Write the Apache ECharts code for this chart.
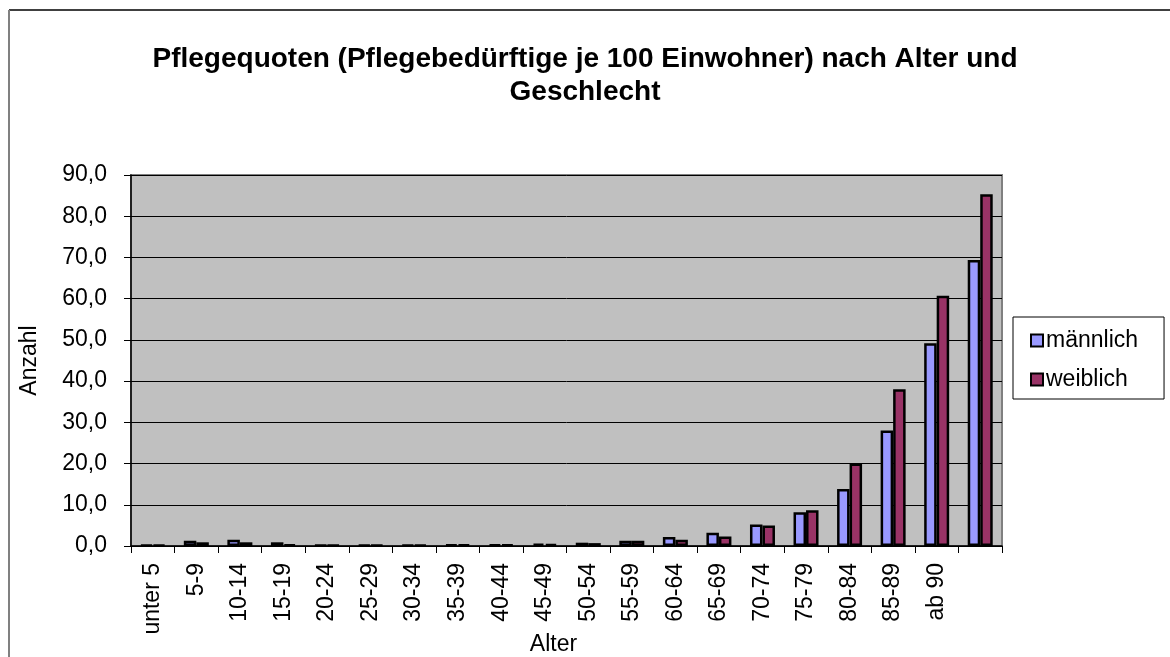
<!DOCTYPE html>
<html>
<head>
<meta charset="utf-8">
<script src="https://cdn.jsdelivr.net/npm/echarts@6/dist/echarts.min.js"></script>
<style>
  html, body { margin: 0; padding: 0; background: #fff; }
  #chart { width: 1170px; height: 657px; }
</style>
</head>
<body>
<div id="chart"></div>
<script>
// Altersgruppen (letzte Gruppe ohne Beschriftung wie im Original)
const ageGroups = ['unter 5', '5-9', '10-14', '15-19', '20-24', '25-29', '30-34', '35-39', '40-44', '45-49',
  '50-54', '55-59', '60-64', '65-69', '70-74', '75-79', '80-84', '85-89', 'ab 90', ''];
// Pflegequoten männlich
const maleValues = [0.3, 1.3, 1.5, 0.9, 0.2, 0.3, 0.3, 0.4, 0.4, 0.6,
  0.8, 1.3, 2.2, 3.2, 5.2, 8.2, 13.8, 28.0, 49.2, 69.4];
// Pflegequoten weiblich
const femaleValues = [0.3, 0.9, 0.9, 0.4, 0.2, 0.2, 0.3, 0.4, 0.4, 0.5,
  0.7, 1.3, 1.5, 2.3, 5.0, 8.7, 20.0, 38.0, 60.7, 85.3];
const yTicks = {min: 0, max: 90, interval: 10};

const FONT = 'Liberation Sans, Arial, sans-serif';
const FS = 23;

const chart = echarts.init(document.getElementById('chart'));

const option = {
  backgroundColor: '#fff',
  animation: false,
  title: {
    text: 'Pflegequoten (Pflegebedürftige je 100 Einwohner) nach Alter und\nGeschlecht',
    left: 'center',
    top: 38,
    textStyle: {
      fontFamily: FONT,
      fontSize: 28,
      fontWeight: 'bold',
      color: '#000',
      lineHeight: 33
    }
  },
  legend: {
    orient: 'vertical',
    left: 1013,
    top: 317,
    padding: [12, 26, 8, 17],
    itemGap: 16,
    itemWidth: 12,
    itemHeight: 12,
    icon: 'rect',
    borderColor: '#000',
    borderWidth: 1,
    textStyle: {fontFamily: FONT, fontSize: FS, color: '#000', padding: [0, 0, 0, -2]},
    itemStyle: {borderColor: '#000', borderWidth: 2},
    data: ['männlich', 'weiblich']
  },
  grid: {
    left: 131,
    top: 175,
    right: 168,
    bottom: 111,
    outerBoundsMode: 'none',
    containLabel: false,
    show: true,
    backgroundColor: '#c0c0c0',
    borderColor: '#808080',
    borderWidth: 2
  },
  xAxis: {
    type: 'category',
    data: ageGroups,
    name: 'Alter',
    nameLocation: 'middle',
    nameGap: 87,
    nameMoveOverlap: false,
    nameTextStyle: {fontFamily: FONT, fontSize: FS, color: '#000', padding: [0, 26, 0, 0]},
    axisLine: {lineStyle: {color: '#000', width: 1.5}},
    axisTick: {show: true, alignWithLabel: false, length: 7, lineStyle: {color: '#000'}},
    axisLabel: {
      rotate: 90,
      interval: 0,
      margin: 17,
      fontFamily: FONT,
      fontSize: FS,
      color: '#000'
    }
  },
  yAxis: {
    type: 'value',
    min: yTicks.min,
    max: yTicks.max,
    interval: yTicks.interval,
    name: 'Anzahl',
    nameLocation: 'middle',
    nameGap: 90,
    nameRotate: 90,
    nameMoveOverlap: false,
    nameTextStyle: {fontFamily: FONT, fontSize: FS, color: '#000'},
    axisLine: {show: true, lineStyle: {color: '#000', width: 1.5}},
    axisTick: {show: true, length: 7, lineStyle: {color: '#000'}},
    axisLabel: {
      margin: 24,
      fontFamily: FONT,
      fontSize: FS,
      color: '#000',
      formatter: v => v.toFixed(1).replace('.', ',')
    },
    splitLine: {lineStyle: {color: '#000', width: 1}}
  },
  series: [
    {
      name: 'männlich',
      type: 'bar',
      data: maleValues,
      barWidth: 12.5,
      barGap: '0%',
      itemStyle: {color: '#9999ff', borderColor: '#000', borderWidth: 2.5}
    },
    {
      name: 'weiblich',
      type: 'bar',
      data: femaleValues,
      barWidth: 12.5,
      barGap: '0%',
      itemStyle: {color: '#993366', borderColor: '#000', borderWidth: 2.5}
    }
  ],
  graphic: [
    // Diagrammrahmen oben und links
    {type: 'line', shape: {x1: 9, y1: 10, x2: 1170, y2: 10}, style: {stroke: '#000', lineWidth: 1.5}},
    {type: 'line', shape: {x1: 9, y1: 10, x2: 9, y2: 657}, style: {stroke: '#808080', lineWidth: 2}}
  ]
};

chart.setOption(option);
</script>
</body>
</html>
